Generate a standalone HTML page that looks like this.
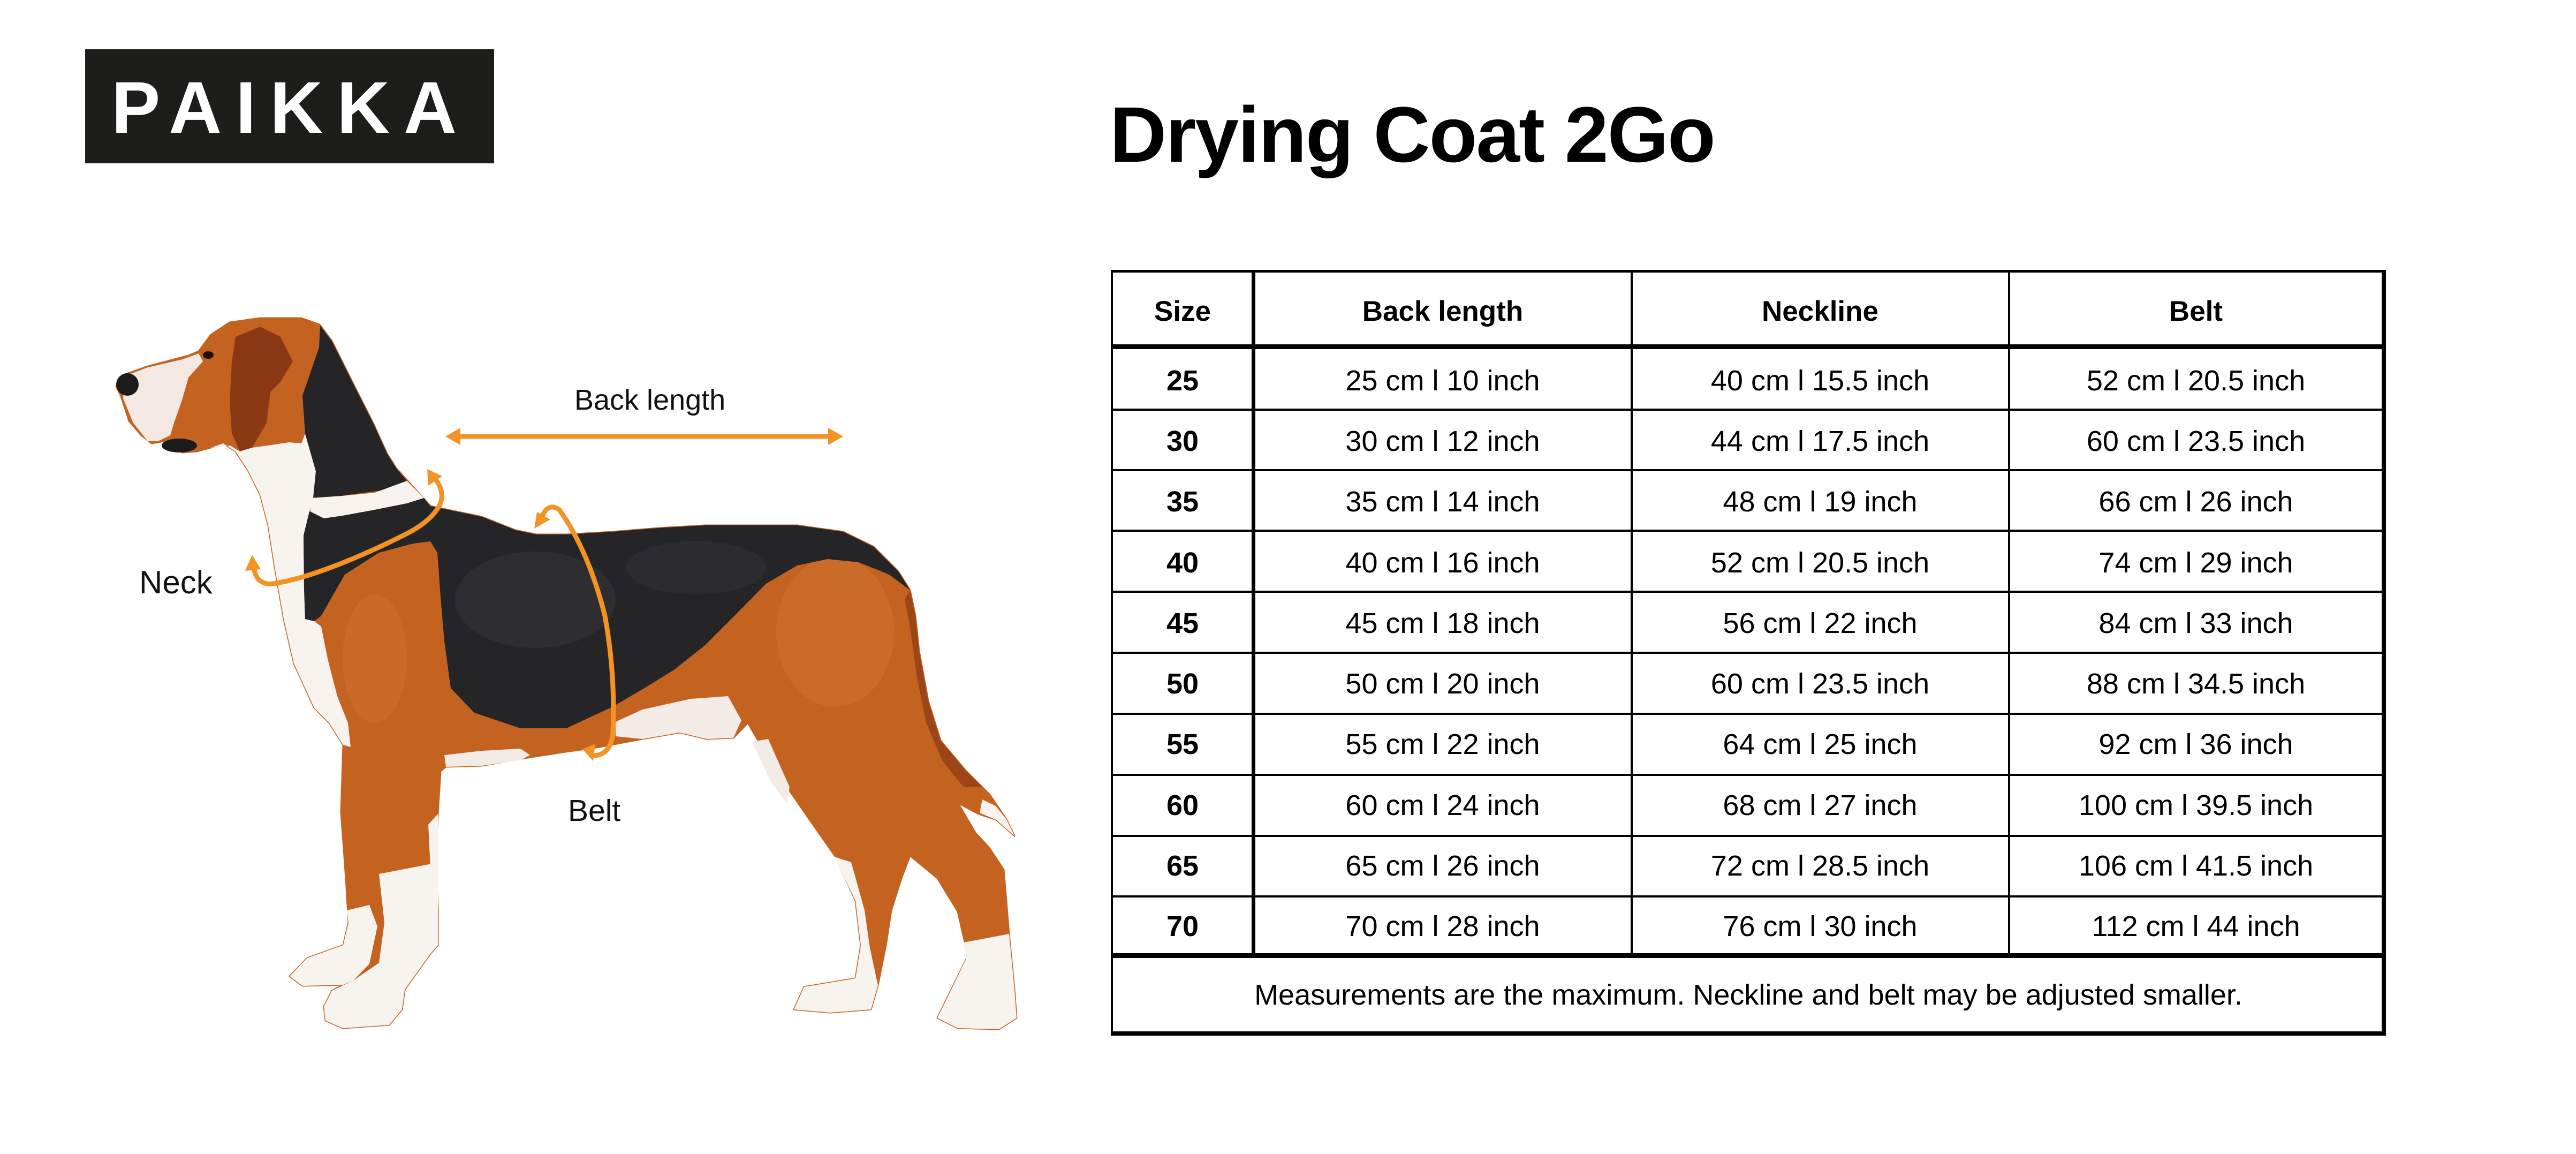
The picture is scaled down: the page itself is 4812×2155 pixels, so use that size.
<!DOCTYPE html>
<html><head><meta charset="utf-8"><style>
html,body{margin:0;padding:0;background:#fff;}
svg{display:block;}
text{font-family:"Liberation Sans",Arial,sans-serif;}
</style></head><body>
<svg width="4812" height="2155" viewBox="0 0 4812 2155" xmlns="http://www.w3.org/2000/svg">
<rect x="0" y="0" width="4812" height="2155" fill="#ffffff"/>

<!-- Logo -->
<rect x="159" y="92" width="764" height="213" fill="#1d1d1c"/>
<text x="208" y="248" font-size="137" font-weight="bold" fill="#ffffff" letter-spacing="26">PAIKKA</text>

<!-- Title -->
<text x="2073" y="302" font-size="147" font-weight="bold" letter-spacing="-2" fill="#000">Drying Coat 2Go</text>

<!-- DOG -->
<g stroke-linejoin="round">
<polygon fill="#c4631f" stroke="#c4631f" stroke-width="3" points="217,721 230,700 242,696 276,684 322,672 352,664 371,656 394,625 429,602 486,594 563,594 597,606 620,637 658,713 697,790 723,847 740,874 778,916 804,945 842,953 900,965 963,990 1002,998 1059,998 1144,993 1230,986 1317,981 1489,981 1575,993 1632,1021 1678,1067 1700,1102 1710,1150 1717,1216 1734,1309 1757,1383 1803,1438 1849,1484 1880,1530 1895,1561 1861,1531 1828,1520 1800,1505 1790,1500 1822,1555 1847,1582 1875,1624 1885,1744 1895,1848 1899,1901 1866,1922 1789,1920 1751,1901 1775,1852 1808,1785 1789,1702 1751,1640 1700,1598 1684,1640 1665,1700 1655,1765 1640,1840 1627,1885 1550,1891 1483,1885 1502,1843 1598,1827 1608,1765 1598,1682 1560,1599 1502,1516 1445,1433 1397,1350 1370,1378 1320,1380 1270,1368 1200,1380 1120,1395 1050,1405 986,1415 900,1430 833,1432 823,1440 818,1520 814,1600 818,1700 818,1765 804,1781 756,1848 751,1885 727,1914 641,1920 608,1906 605,1880 620,1850 641,1839 565,1841 541,1823 574,1789 641,1765 651,1723 646,1640 637,1516 641,1391 615,1350 587,1322 549,1239 530,1156 513,1058 501,981 486,924 463,878 440,843 417,828 394,836 368,843 340,845 306,824 283,828 264,813 241,786 226,740"/>
<polygon fill="#9c4516" points="1700,1102 1710,1150 1717,1216 1734,1309 1757,1383 1803,1438 1835,1470 1800,1470 1760,1420 1730,1350 1712,1260 1700,1170 1690,1120"/>
<ellipse cx="1560" cy="1180" rx="110" ry="140" fill="#cf7232" opacity="0.6"/>
<ellipse cx="700" cy="1230" rx="60" ry="120" fill="#cf7232" opacity="0.5"/>
<polygon fill="#f7f3ef" points="394,836 417,828 440,843 463,878 486,924 501,981 513,1058 530,1156 549,1239 587,1322 615,1350 641,1391 655,1395 650,1350 630,1300 612,1230 600,1170 587,1160 570,1156 568,1100 567,1000 578,955 585,930 590,880 570,810 563,828 540,826 500,832 470,836 448,843 430,832"/>
<polygon fill="#f4e8e3" points="230,744 234,702 276,686 341,671 371,660 379,675 352,705 341,744 325,790 318,813 295,824 276,824 249,790"/>
<polygon fill="#252527" points="598,608 620,637 658,713 697,790 723,847 740,874 760,898 720,915 650,924 600,932 585,930 590,880 570,810 565,739 596,649"/>
<polygon fill="#f7f3ef" points="580,930 640,926 700,920 760,898 778,916 792,930 760,940 700,952 640,963 605,968 580,955"/>
<polygon fill="#252527" points="578,955 605,968 640,963 700,952 760,940 792,930 804,945 842,953 900,965 963,990 1002,998 1059,998 1144,993 1230,986 1317,981 1489,981 1575,993 1632,1021 1678,1067 1700,1102 1661,1073 1604,1050 1546,1044 1489,1056 1431,1090 1374,1148 1317,1205 1259,1251 1202,1286 1144,1320 1058,1360 972,1360 886,1331 842,1285 830,1197 823,1115 817,1032 804,1011 772,1015 708,1032 644,1073 600,1150 587,1160 570,1156 568,1100 567,1000"/>
<ellipse cx="1000" cy="1120" rx="150" ry="90" fill="#3a3a3c" opacity="0.45"/>
<ellipse cx="1300" cy="1060" rx="130" ry="50" fill="#3a3a3c" opacity="0.35"/>
<polygon fill="#f3ebe6" points="830,1410 900,1402 972,1398 990,1410 972,1420 900,1430 833,1432"/>
<polygon fill="#f3ebe6" points="1150,1348 1200,1325 1290,1305 1360,1300 1385,1345 1370,1378 1320,1380 1270,1368 1200,1380 1150,1375"/>
<polygon fill="#f3ebe6" points="1405,1385 1435,1380 1475,1470 1470,1500 1440,1460"/>
<polygon fill="#f7f3ef" points="648,1700 690,1690 705,1730 690,1800 660,1831 641,1839 565,1841 541,1823 574,1789 641,1765 651,1723"/>
<polygon fill="#f7f3ef" points="708,1632 760,1622 812,1612 818,1700 818,1765 804,1781 756,1848 751,1885 727,1914 641,1920 608,1906 605,1880 620,1850 660,1831 708,1798 718,1723"/>
<polygon fill="#f7f3ef" points="800,1540 818,1520 818,1700 808,1700"/>
<polygon fill="#f7f3ef" points="1558,1600 1590,1610 1615,1700 1625,1770 1640,1840 1627,1885 1550,1891 1483,1885 1502,1843 1598,1827 1608,1765 1598,1682"/>
<polygon fill="#f7f3ef" points="1800,1760 1885,1744 1895,1848 1899,1901 1866,1922 1789,1920 1751,1901 1775,1852 1805,1790"/>
<polygon fill="#f7f3ef" points="1835,1493 1860,1505 1880,1530 1895,1561 1861,1531 1830,1518"/>
<polygon fill="#8a3914" points="440,629 433,675 429,751 433,809 448,843 471,836 498,790 505,732 524,713 547,675 524,629 486,610"/>
<ellipse cx="238" cy="718" rx="21" ry="21" fill="#1b1b1b"/>
<ellipse cx="335" cy="832" rx="33" ry="13" fill="#1b1b1b"/>
<ellipse cx="389" cy="663" rx="10" ry="7" fill="#1a1010"/>
</g>

<!-- ARROWS -->
<g fill="none" stroke="#f39325" stroke-width="9" stroke-linecap="round">
<line x1="852" y1="815" x2="1555" y2="815"/>
<path d="M812,893 Q832,918 822,942 Q805,975 753,1000 Q690,1032 625,1057 Q560,1082 511,1090 Q478,1094 474,1058"/>
<path d="M1014,962 Q1025,938 1045,952 Q1100,1030 1130,1150 Q1150,1260 1145,1370 Q1140,1412 1106,1411"/>
</g>
<g fill="#f39325">
<polygon points="832,815 860,799 860,831"/>
<polygon points="1575,815 1547,799 1547,831"/>
<polygon points="798,876 800,907 826,889"/>
<polygon points="471,1036 458,1066 487,1063"/>
<polygon points="998,987 1003,956 1028,970"/>
<polygon points="1088,1399 1112,1389 1108,1421"/>
</g>

<text x="1073" y="765" font-size="54" fill="#111">Back length</text>
<text x="260" y="1108" font-size="60" fill="#111">Neck</text>
<text x="1061" y="1533" font-size="57" fill="#111">Belt</text>

<!-- TABLE LINES -->
<g fill="#000">
<rect x="2075" y="504" width="2382" height="5"/>
<rect x="2075" y="504" width="4" height="1430"/>
<rect x="4449" y="504" width="8" height="1430"/>
<rect x="2075" y="1926" width="2382" height="8"/>
<rect x="2075" y="643" width="2382" height="9"/>
<rect x="2075" y="1780" width="2382" height="9"/>
<rect x="2338" y="504" width="7" height="1285"/>
<rect x="3046" y="504" width="4" height="1276"/>
<rect x="3751" y="504" width="4" height="1276"/>
<rect x="2075" y="763" width="2382" height="4"/>
<rect x="2075" y="876" width="2382" height="4"/>
<rect x="2075" y="989" width="2382" height="4"/>
<rect x="2075" y="1103" width="2382" height="4"/>
<rect x="2075" y="1217" width="2382" height="4"/>
<rect x="2075" y="1331" width="2382" height="4"/>
<rect x="2075" y="1445" width="2382" height="4"/>
<rect x="2075" y="1559" width="2382" height="4"/>
<rect x="2075" y="1672" width="2382" height="4"/>
</g>

<!-- TABLE TEXT -->
<g fill="#000" text-anchor="middle">
<g font-size="53" font-weight="bold">
<text x="2209" y="599">Size</text>
<text x="2695" y="599">Back length</text>
<text x="3400" y="599">Neckline</text>
<text x="4102" y="599">Belt</text>
</g>
<g font-size="54" font-weight="bold">
<text x="2209" y="729">25</text>
<text x="2209" y="842">30</text>
<text x="2209" y="955">35</text>
<text x="2209" y="1069">40</text>
<text x="2209" y="1182">45</text>
<text x="2209" y="1295">50</text>
<text x="2209" y="1408">55</text>
<text x="2209" y="1522">60</text>
<text x="2209" y="1635">65</text>
<text x="2209" y="1748">70</text>
</g>
<g font-size="54">
<text x="2695" y="729">25 cm l 10 inch</text>
<text x="3400" y="729">40 cm l 15.5 inch</text>
<text x="4102" y="729">52 cm l 20.5 inch</text>

<text x="2695" y="842">30 cm l 12 inch</text>
<text x="3400" y="842">44 cm l 17.5 inch</text>
<text x="4102" y="842">60 cm l 23.5 inch</text>

<text x="2695" y="955">35 cm l 14 inch</text>
<text x="3400" y="955">48 cm l 19 inch</text>
<text x="4102" y="955">66 cm l 26 inch</text>

<text x="2695" y="1069">40 cm l 16 inch</text>
<text x="3400" y="1069">52 cm l 20.5 inch</text>
<text x="4102" y="1069">74 cm l 29 inch</text>

<text x="2695" y="1182">45 cm l 18 inch</text>
<text x="3400" y="1182">56 cm l 22 inch</text>
<text x="4102" y="1182">84 cm l 33 inch</text>

<text x="2695" y="1295">50 cm l 20 inch</text>
<text x="3400" y="1295">60 cm l 23.5 inch</text>
<text x="4102" y="1295">88 cm l 34.5 inch</text>

<text x="2695" y="1408">55 cm l 22 inch</text>
<text x="3400" y="1408">64 cm l 25 inch</text>
<text x="4102" y="1408">92 cm l 36 inch</text>

<text x="2695" y="1522">60 cm l 24 inch</text>
<text x="3400" y="1522">68 cm l 27 inch</text>
<text x="4102" y="1522">100 cm l 39.5 inch</text>

<text x="2695" y="1635">65 cm l 26 inch</text>
<text x="3400" y="1635">72 cm l 28.5 inch</text>
<text x="4102" y="1635">106 cm l 41.5 inch</text>

<text x="2695" y="1748">70 cm l 28 inch</text>
<text x="3400" y="1748">76 cm l 30 inch</text>
<text x="4102" y="1748">112 cm l 44 inch</text>

<text x="3266" y="1876">Measurements are the maximum. Neckline and belt may be adjusted smaller.</text>
</g>
</g>
</svg>
</body></html>
